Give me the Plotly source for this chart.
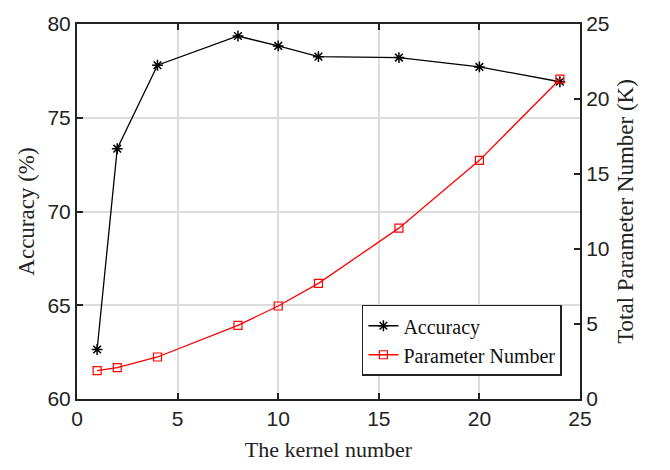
import plotly.graph_objects as go

kernels = [1, 2, 4, 8, 10, 12, 16, 20, 24]
accuracy = [62.64, 73.35, 77.8, 79.36, 78.83, 78.26, 78.21, 77.71, 76.92]
params_k = [1.89, 2.09, 2.8, 4.91, 6.2, 7.71, 11.39, 15.91, 21.32]

fig = go.Figure()
fig.add_trace(go.Scatter(
    x=kernels, y=accuracy, name="Accuracy", mode="lines+markers",
    line=dict(color="black", width=1.3),
    marker=dict(symbol="asterisk-open", size=9, color="black", line=dict(width=1.5, color="black")),
))
fig.add_trace(go.Scatter(
    x=kernels, y=params_k, name="Parameter Number", mode="lines+markers", yaxis="y2",
    line=dict(color="red", width=1.3),
    marker=dict(symbol="square-open", size=8, color="red", line=dict(width=1.2, color="red")),
))

tickfont = dict(family="Liberation Sans, Arial", size=21, color="#222")
xtitlefont = dict(family="Liberation Serif, Times New Roman", size=22, color="#222")
ytitlefont = dict(family="Liberation Serif, Times New Roman", size=23, color="#222")

fig.update_layout(
    width=670, height=470,
    margin=dict(l=77, r=90, t=15, b=68),
    plot_bgcolor="white", paper_bgcolor="white",
    showlegend=True,
    legend=dict(
        x=0.964, y=0.062, xanchor="right", yanchor="bottom",
        bgcolor="white", bordercolor="#222", borderwidth=1.5,
        font=dict(family="Liberation Serif, Times New Roman", size=20, color="#111"),
        tracegroupgap=0,
    ),
    xaxis=dict(
        range=[0, 25], tickvals=[0, 5, 10, 15, 20, 25],
        showline=True, linecolor="#222", linewidth=2, mirror="ticks",
        ticks="inside", ticklen=6, tickwidth=1.5, tickcolor="#222",
        showgrid=True, gridcolor="#dcdcdc", gridwidth=1.5,
        zeroline=False, tickfont=tickfont,
        title=dict(text="The kernel number", font=xtitlefont, standoff=12),
    ),
    yaxis=dict(
        range=[60, 80], tickvals=[60, 65, 70, 75, 80],
        showline=True, linecolor="#222", linewidth=2,
        ticks="inside", ticklen=6, tickwidth=1.5, tickcolor="#222",
        showgrid=True, gridcolor="#dcdcdc", gridwidth=1.5,
        zeroline=False, tickfont=tickfont,
        title=dict(text="Accuracy (%)", font=ytitlefont, standoff=6),
    ),
    yaxis2=dict(
        range=[0, 25], tickvals=[0, 5, 10, 15, 20, 25],
        overlaying="y", side="right",
        showline=True, linecolor="#222", linewidth=2,
        ticks="inside", ticklen=6, tickwidth=1.5, tickcolor="#222",
        showgrid=False, zeroline=False, tickfont=tickfont,
        title=dict(text="Total Parameter Number (K)", font=ytitlefont, standoff=8),
    ),
)

fig.write_html("out.html")
